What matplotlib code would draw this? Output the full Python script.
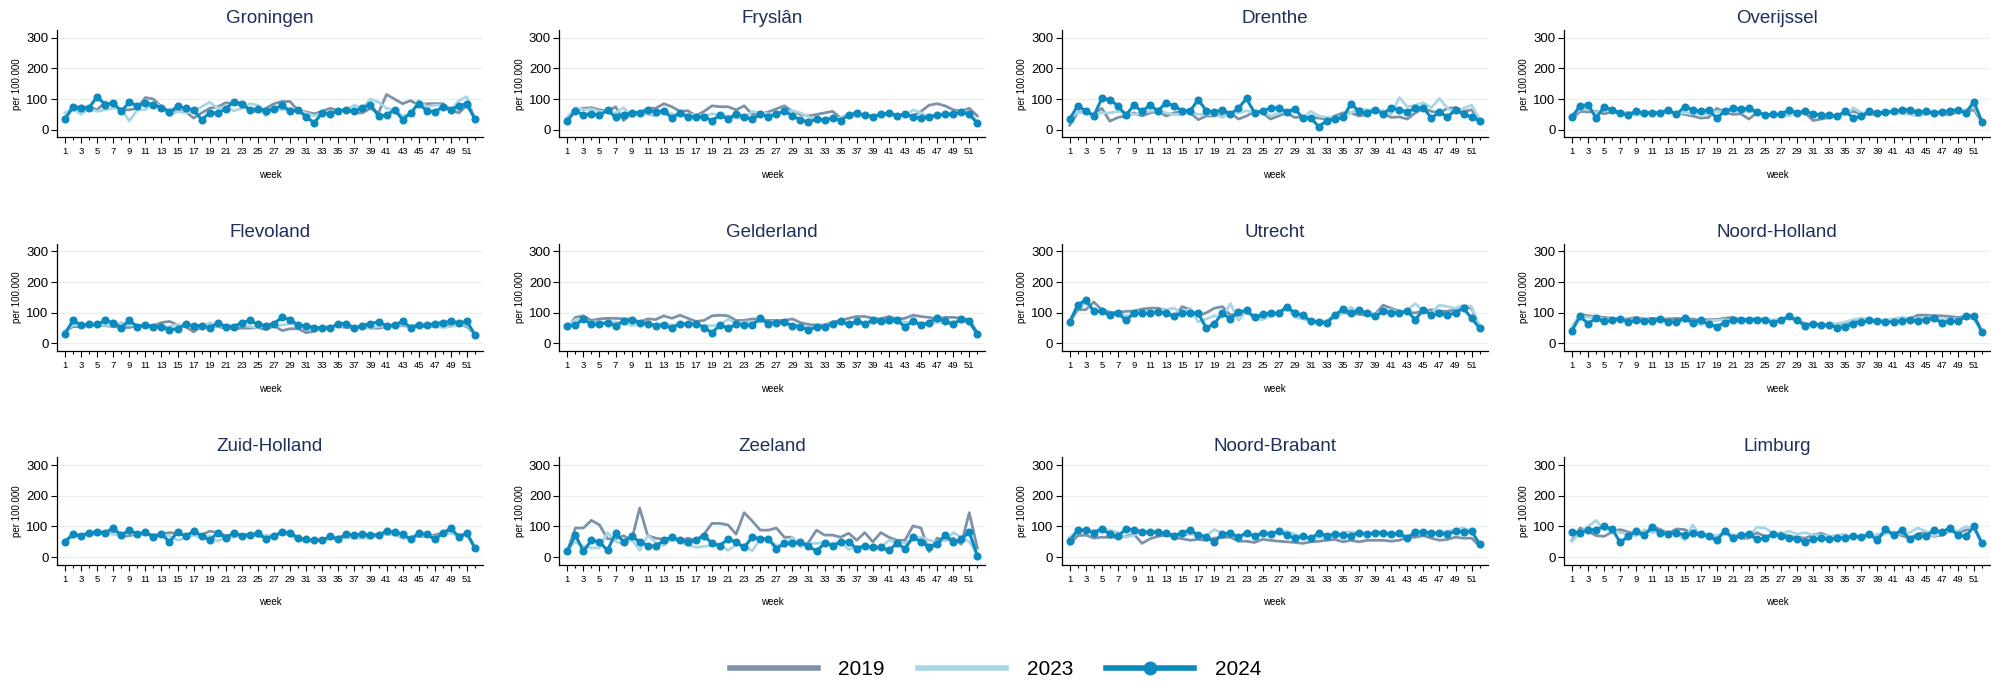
import matplotlib.pyplot as plt
from matplotlib.lines import Line2D

plt.rcParams['font.family'] = ['Liberation Sans', 'DejaVu Sans']

weeks = list(range(1, 53))
provinces = ['Groningen', 'Fryslân', 'Drenthe', 'Overijssel',
             'Flevoland', 'Gelderland', 'Utrecht', 'Noord-Holland',
             'Zuid-Holland', 'Zeeland', 'Noord-Brabant', 'Limburg']

# cases per 100.000, week 1..52
rate_2019 = {
    'Groningen': [40, 70, 65, 75, 65, 90, 80, 65, 65, 70, 105, 100, 75, 60, 60, 60, 38, 55, 70, 75, 88, 85, 80, 65, 58, 70,
                  85, 92, 92, 62, 58, 52, 60, 70, 62, 65, 55, 55, 70, 55, 115, 100, 85, 95, 80, 85, 85, 85, 65, 55, 80, 35],
    'Fryslân': [35, 62, 70, 72, 65, 60, 75, 30, 55, 55, 70, 70, 85, 75, 60, 62, 45, 60, 78, 75, 75, 65, 78, 50, 50, 58,
                68, 78, 60, 50, 45, 50, 55, 60, 38, 50, 50, 45, 45, 48, 52, 50, 48, 45, 60, 80, 85, 78, 65, 60, 70, 45],
    'Drenthe': [15, 55, 60, 50, 70, 28, 40, 45, 55, 45, 55, 60, 45, 55, 60, 55, 33, 45, 45, 50, 55, 35, 45, 60, 55, 35,
                45, 55, 40, 42, 40, 38, 35, 45, 55, 55, 45, 50, 65, 55, 40, 42, 35, 55, 70, 60, 55, 70, 72, 60, 65, 30],
    'Overijssel': [35, 60, 58, 60, 52, 58, 55, 55, 55, 55, 55, 55, 55, 55, 50, 45, 38, 40, 70, 58, 50, 52, 35, 55, 50, 48,
                   45, 48, 55, 55, 30, 35, 40, 45, 55, 60, 50, 50, 50, 55, 55, 55, 55, 50, 55, 55, 55, 48, 60, 60, 65, 25],
    'Flevoland': [40, 55, 55, 58, 60, 58, 55, 52, 52, 58, 58, 58, 68, 72, 60, 55, 38, 55, 58, 55, 50, 48, 50, 50, 52, 45,
                  58, 42, 48, 48, 35, 40, 52, 55, 55, 52, 52, 55, 50, 50, 55, 58, 58, 55, 55, 55, 55, 55, 60, 62, 55, 30],
    'Gelderland': [50, 85, 90, 75, 80, 82, 82, 80, 80, 70, 80, 78, 90, 82, 92, 82, 72, 75, 90, 92, 90, 75, 75, 80, 78, 75,
                   75, 75, 80, 68, 62, 60, 60, 70, 75, 82, 88, 88, 82, 80, 88, 80, 82, 92, 88, 85, 80, 85, 85, 82, 78, 35],
    'Utrecht': [70, 110, 110, 135, 110, 102, 100, 105, 105, 112, 115, 115, 108, 85, 120, 110, 90, 100, 115, 120, 92, 100,
                100, 90, 85, 90, 100, 115, 100, 88, 75, 72, 70, 90, 100, 98, 95, 92, 95, 125, 115, 105, 100, 100, 105, 110,
                105, 105, 110, 120, 115, 55],
    'Noord-Holland': [50, 95, 90, 88, 85, 82, 80, 80, 85, 78, 82, 80, 80, 82, 80, 80, 75, 78, 78, 82, 85, 78, 80, 80, 80,
                      75, 80, 85, 75, 65, 62, 62, 60, 62, 68, 70, 75, 72, 72, 75, 78, 80, 80, 92, 92, 90, 90, 88, 85, 88,
                      92, 40],
    'Zuid-Holland': [55, 70, 72, 75, 75, 78, 80, 68, 70, 75, 78, 72, 75, 80, 78, 70, 75, 72, 85, 80, 70, 72, 72, 75, 68,
                     68, 70, 78, 75, 55, 52, 55, 60, 60, 65, 70, 72, 70, 70, 75, 78, 75, 62, 65, 68, 68, 72, 80, 80, 72,
                     75, 30],
    'Zeeland': [20, 95, 95, 120, 105, 60, 60, 70, 55, 160, 70, 62, 58, 60, 52, 62, 55, 75, 110, 110, 105, 75, 145, 118, 88,
                88, 95, 65, 65, 35, 48, 88, 72, 72, 65, 78, 55, 80, 50, 80, 65, 55, 55, 102, 95, 18, 62, 55, 62, 42, 145,
                30],
    'Noord-Brabant': [42, 70, 72, 62, 65, 65, 65, 68, 75, 45, 60, 68, 72, 65, 60, 55, 58, 55, 62, 65, 65, 52, 52, 48, 58,
                      55, 52, 50, 48, 45, 50, 52, 55, 58, 50, 55, 50, 55, 55, 55, 52, 55, 65, 65, 70, 62, 55, 58, 65, 62,
                      62, 35],
    'Limburg': [55, 95, 85, 70, 68, 82, 90, 82, 75, 75, 100, 90, 78, 92, 90, 78, 70, 70, 68, 80, 72, 62, 62, 80, 68, 70,
                80, 68, 65, 62, 72, 78, 68, 62, 65, 68, 68, 72, 68, 78, 82, 70, 62, 75, 82, 68, 72, 85, 80, 88, 95, 45],
}

rate_2023 = {
    'Groningen': [55, 70, 50, 70, 60, 65, 70, 70, 28, 65, 65, 90, 75, 45, 60, 55, 60, 75, 90, 70, 75, 62, 70, 85, 80, 45,
                  70, 65, 70, 60, 55, 45, 55, 60, 60, 65, 80, 70, 100, 90, 70, 65, 45, 50, 95, 75, 80, 80, 65, 95, 108, 35],
    'Fryslân': [40, 72, 65, 68, 60, 58, 55, 72, 42, 55, 50, 45, 58, 52, 48, 50, 48, 45, 52, 48, 45, 38, 38, 60, 55, 52,
                50, 60, 62, 55, 42, 30, 30, 38, 38, 50, 42, 45, 45, 50, 52, 50, 45, 65, 55, 42, 45, 50, 52, 62, 55, 25],
    'Drenthe': [40, 55, 55, 50, 55, 55, 60, 55, 50, 55, 60, 62, 55, 50, 48, 60, 50, 50, 50, 40, 55, 55, 62, 55, 62, 45,
                55, 60, 70, 40, 60, 45, 40, 40, 45, 55, 70, 65, 65, 62, 50, 105, 75, 80, 88, 72, 102, 70, 55, 70, 80, 35],
    'Overijssel': [50, 65, 72, 55, 65, 60, 58, 55, 48, 50, 55, 52, 60, 55, 55, 52, 55, 50, 60, 58, 60, 60, 60, 55, 50, 50,
                   45, 45, 60, 62, 50, 45, 45, 48, 48, 72, 55, 55, 55, 58, 58, 55, 50, 45, 50, 55, 55, 60, 60, 65, 75, 28],
    'Flevoland': [40, 60, 58, 58, 60, 60, 58, 68, 60, 58, 55, 52, 55, 55, 62, 58, 55, 52, 68, 55, 60, 58, 60, 55, 52, 58,
                  58, 60, 65, 58, 45, 45, 50, 55, 55, 58, 55, 52, 52, 55, 58, 62, 60, 58, 62, 58, 55, 52, 55, 60, 60, 30],
    'Gelderland': [55, 78, 72, 70, 70, 70, 70, 68, 58, 65, 60, 62, 65, 60, 62, 62, 60, 58, 58, 60, 80, 65, 70, 70, 70, 68,
                   72, 62, 60, 58, 50, 55, 58, 68, 62, 68, 62, 68, 68, 70, 65, 72, 70, 68, 68, 65, 68, 70, 70, 72, 68, 30],
    'Utrecht': [75, 120, 130, 110, 100, 95, 98, 90, 95, 100, 105, 108, 110, 115, 95, 115, 70, 80, 90, 85, 130, 75, 105, 80,
                78, 90, 100, 120, 85, 80, 70, 70, 75, 95, 100, 118, 100, 105, 95, 108, 110, 100, 110, 130, 105, 100, 125,
                120, 115, 125, 120, 55],
    'Noord-Holland': [55, 90, 85, 85, 80, 78, 80, 75, 80, 72, 75, 75, 72, 72, 72, 72, 60, 75, 75, 78, 72, 70, 75, 75, 78,
                      75, 80, 85, 72, 62, 65, 60, 65, 65, 70, 78, 82, 80, 75, 78, 80, 85, 82, 80, 85, 82, 78, 78, 80, 82,
                      80, 38],
    'Zuid-Holland': [55, 68, 70, 75, 75, 78, 75, 70, 80, 72, 75, 68, 72, 70, 55, 62, 72, 62, 70, 52, 65, 65, 70, 72, 72,
                     70, 72, 78, 72, 55, 55, 55, 55, 60, 60, 65, 62, 62, 62, 70, 75, 72, 65, 62, 70, 72, 65, 75, 78, 70,
                     72, 30],
    'Zeeland': [25, 50, 35, 30, 30, 80, 52, 42, 58, 22, 70, 48, 38, 60, 50, 40, 32, 35, 38, 40, 22, 40, 40, 20, 60, 55,
                40, 35, 65, 35, 45, 45, 48, 45, 50, 25, 35, 30, 28, 30, 55, 50, 45, 60, 65, 55, 50, 55, 80, 65, 50, 10],
    'Noord-Brabant': [65, 85, 90, 85, 90, 88, 80, 65, 72, 80, 80, 82, 78, 72, 72, 75, 70, 70, 90, 78, 75, 65, 72, 72, 75,
                      82, 80, 85, 75, 65, 62, 65, 65, 70, 80, 82, 78, 72, 82, 80, 72, 72, 68, 80, 82, 80, 80, 85, 90, 95,
                      85, 42],
    'Limburg': [52, 80, 100, 120, 90, 88, 80, 75, 70, 90, 80, 85, 75, 82, 55, 105, 70, 75, 70, 80, 72, 75, 65, 98, 95, 78,
                75, 85, 75, 80, 72, 72, 68, 72, 75, 62, 68, 65, 75, 75, 82, 75, 80, 95, 85, 70, 75, 88, 85, 100, 92, 45],
}

rate_2024 = {
    'Groningen': [35, 75, 72, 72, 108, 82, 88, 60, 90, 78, 88, 82, 72, 58, 76, 70, 65, 33, 55, 55, 68, 92, 85, 65, 68, 62,
                  68, 80, 60, 65, 42, 23, 55, 52, 62, 65, 60, 72, 82, 45, 48, 65, 33, 55, 85, 62, 58, 75, 65, 78, 85, 35],
    'Fryslân': [30, 62, 48, 53, 48, 63, 42, 48, 55, 55, 63, 58, 62, 38, 55, 42, 43, 42, 30, 48, 35, 52, 42, 35, 50, 43,
                50, 62, 45, 33, 25, 35, 33, 38, 30, 48, 55, 47, 43, 50, 55, 45, 50, 42, 38, 42, 48, 52, 50, 58, 50, 22],
    'Drenthe': [35, 78, 62, 45, 102, 98, 78, 48, 80, 60, 80, 62, 88, 78, 62, 62, 98, 62, 58, 65, 52, 70, 102, 55, 62, 70,
                72, 58, 68, 38, 38, 10, 30, 35, 40, 85, 60, 55, 65, 52, 72, 65, 58, 70, 72, 38, 58, 42, 65, 52, 40, 30],
    'Overijssel': [42, 78, 82, 38, 75, 65, 55, 48, 60, 55, 55, 55, 65, 50, 75, 65, 60, 65, 38, 60, 70, 68, 70, 58, 48, 50,
                   50, 65, 55, 60, 52, 48, 48, 45, 60, 38, 45, 60, 55, 58, 60, 65, 65, 58, 60, 55, 58, 62, 65, 55, 92, 25],
    'Flevoland': [32, 75, 60, 62, 62, 75, 68, 52, 75, 55, 60, 55, 55, 45, 48, 62, 58, 58, 50, 68, 55, 55, 68, 75, 62, 58,
                  65, 85, 78, 60, 58, 52, 50, 50, 65, 65, 50, 58, 65, 70, 58, 60, 72, 52, 60, 60, 65, 68, 72, 68, 72, 28],
    'Gelderland': [58, 60, 80, 62, 62, 68, 58, 72, 75, 68, 65, 58, 60, 50, 65, 62, 65, 52, 35, 60, 50, 62, 60, 60, 82, 65,
                   68, 70, 58, 55, 43, 55, 55, 65, 72, 62, 72, 65, 75, 72, 75, 75, 55, 72, 60, 68, 82, 72, 62, 80, 72, 30],
    'Utrecht': [70, 125, 142, 105, 105, 93, 100, 75, 98, 98, 98, 102, 98, 88, 100, 98, 98, 50, 65, 98, 80, 102, 108, 85,
                95, 100, 98, 120, 100, 92, 72, 70, 68, 92, 112, 98, 108, 98, 88, 105, 100, 100, 105, 78, 110, 92, 100, 92,
                100, 115, 82, 50],
    'Noord-Holland': [42, 88, 65, 82, 72, 75, 80, 70, 75, 72, 72, 80, 70, 70, 82, 68, 75, 62, 55, 68, 75, 75, 78, 78, 75,
                      68, 75, 88, 75, 58, 65, 60, 60, 52, 55, 65, 70, 75, 72, 70, 70, 72, 78, 72, 78, 82, 68, 72, 72, 90,
                      88, 38],
    'Zuid-Holland': [50, 75, 70, 80, 82, 80, 95, 72, 88, 75, 82, 65, 75, 50, 82, 68, 85, 70, 55, 80, 62, 80, 70, 72, 78,
                     60, 70, 82, 80, 62, 58, 55, 55, 68, 58, 75, 72, 75, 72, 72, 85, 82, 75, 58, 78, 75, 58, 78, 95, 65,
                     78, 30],
    'Zeeland': [20, 72, 20, 55, 50, 22, 78, 50, 68, 50, 38, 35, 55, 65, 55, 50, 55, 70, 45, 38, 60, 48, 32, 65, 60, 60,
                28, 45, 45, 50, 35, 20, 45, 38, 48, 50, 28, 38, 32, 32, 22, 45, 28, 65, 50, 32, 42, 72, 48, 58, 82, 5],
    'Noord-Brabant': [52, 88, 88, 80, 92, 75, 68, 92, 90, 82, 82, 82, 78, 70, 80, 88, 72, 65, 50, 75, 78, 65, 80, 68, 80,
                      75, 85, 72, 62, 68, 62, 78, 70, 75, 72, 70, 80, 75, 80, 80, 75, 78, 62, 82, 82, 78, 78, 75, 85, 82,
                      85, 42],
    'Limburg': [82, 80, 88, 90, 100, 92, 48, 68, 85, 72, 98, 80, 75, 80, 72, 78, 75, 68, 55, 85, 62, 72, 75, 58, 62, 75,
                70, 62, 60, 50, 58, 62, 58, 62, 62, 70, 65, 75, 55, 92, 72, 88, 60, 68, 68, 88, 82, 95, 72, 68, 100, 45],
}

kleur_2019 = '#7d92a8'
kleur_2023 = '#a8d6e4'
kleur_2024 = '#0b8abf'
titel_kleur = '#1f2e5c'

fig, axes = plt.subplots(3, 4, figsize=(19.91, 6.83), dpi=100)
plt.subplots_adjust(left=0.0286, right=0.9995, top=0.956, bottom=0.173, wspace=0.179, hspace=0.99)

for ax, prov in zip(axes.flat, provinces):
    ax.plot(weeks, rate_2019[prov], color=kleur_2019, linewidth=2.0, zorder=2)
    ax.plot(weeks, rate_2023[prov], color=kleur_2023, linewidth=2.0, zorder=3)
    ax.plot(weeks, rate_2024[prov], color=kleur_2024, linewidth=2.2, marker='o', markersize=4.8, zorder=4)
    ax.set_title(prov, fontsize=13.5, color=titel_kleur, pad=5)
    ax.set_xlim(0, 53)
    ax.set_ylim(-25, 325)
    ax.set_yticks([0, 100, 200, 300])
    ax.set_xticks(range(1, 53, 2))
    ax.set_xticks(range(2, 53, 2), minor=True)
    ax.tick_params(axis='y', labelsize=9.5, length=4, width=0.8, pad=2)
    ax.tick_params(axis='x', labelsize=6.8, length=4, width=0.8, pad=3)
    ax.tick_params(axis='x', which='minor', length=2, width=0.8)
    ax.set_xlabel('week', fontsize=7, labelpad=10)
    ax.set_ylabel('per 100.000', fontsize=7, labelpad=3)
    ax.grid(axis='y', color='#e8f0f3', linewidth=0.9, zorder=0)
    ax.set_axisbelow(True)
    for kant in ['top', 'right']:
        ax.spines[kant].set_visible(False)
    for kant in ['left', 'bottom']:
        ax.spines[kant].set_linewidth(0.9)

handles = [
    Line2D([], [], color=kleur_2019, linewidth=4),
    Line2D([], [], color=kleur_2023, linewidth=4),
    Line2D([], [], color=kleur_2024, linewidth=4, marker='o', markersize=9),
]
fig.legend(handles, ['2019', '2023', '2024'], loc='center', bbox_to_anchor=(0.5, 0.02),
           ncol=3, frameon=False, fontsize=15, handlelength=4.2, handletextpad=1.0, columnspacing=1.6)

fig.savefig('out.png', dpi=100, facecolor='white')
